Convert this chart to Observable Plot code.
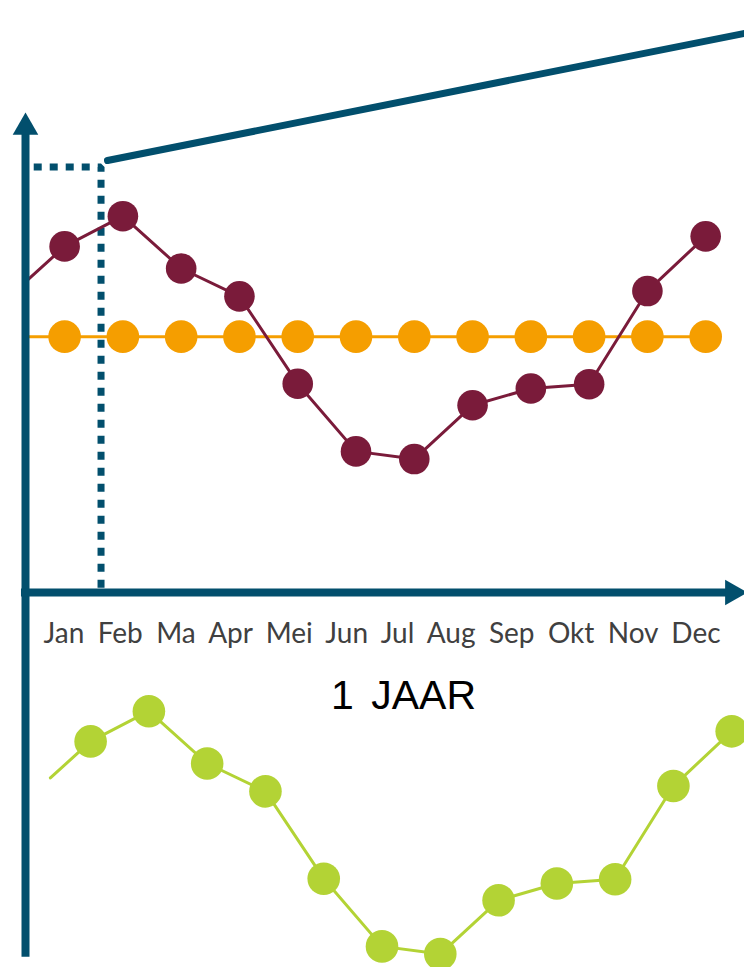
<!DOCTYPE html>
<html>
<head>
<meta charset="utf-8">
<script src="https://cdn.jsdelivr.net/npm/d3@7"></script>
<script src="https://cdn.jsdelivr.net/npm/@observablehq/plot@0.6"></script>
<style>
  html, body { margin: 0; padding: 0; background: #ffffff; }
  #chart svg { display: block; }
</style>
</head>
<body>
<div id="chart"></div>
<script>
// ---- data ----
const months = ["Jan", "Feb", "Ma", "Apr", "Mei", "Jun", "Jul", "Aug", "Sep", "Okt", "Nov", "Dec"];
// monthly values (index 0..11)
const seasonal = [72.1, 78.4, 67.5, 61.7, 43.5, 29.4, 27.8, 39.0, 42.5, 43.4, 62.8, 74.2];
const average = 53.3;
// lead-in of the curves, coming in from before January
const seasonalLeadIn = { month: -0.69, value: 64.5 };
const averageLeadIn = { month: -0.69, value: 53.3 };
// the highlighted first period (dotted box) and the growing trend line
const periodBox = [
  { month: -0.53, value: 88.65 },
  { month: 0.625, value: 88.65 },
  { month: 0.625, value: 0 }
];
const trend = [
  { month: 0.736, value: 90.0 },
  { month: 11.67, value: 116.5 }
];
// axes extents
const yAxisAt = -0.671, yAxisTop = 96.3, yAxisBottom = -76.0, yArrow = 96.9;
const xAxisLeft = -0.74, xAxisRight = 11.43, xArrow = 11.46;
const monthRowStart = -0.362, monthRowEnd = 11.255;
const axisLabel = "1 JAAR";

// ---- tables ----
const seasonalPts = months.map((m, i) => ({ month: i, value: seasonal[i], label: m }));
const seasonalLine = [seasonalLeadIn, ...seasonalPts];
const averagePts = months.map((m, i) => ({ month: i, value: average }));
const averageLine = [averageLeadIn, ...averagePts];
const monthRow = months.join(" ");

const teal = "#024f6d", maroon = "#7a1b3a", orange = "#f59e00", green = "#b3d335";

const chart = Plot.plot({
  width: 744,
  height: 967,
  margin: 0,
  x: { domain: [-1.1, 11.666], axis: null },
  y: { domain: [-78.125, 123.333], axis: null },
  style: { background: "#ffffff" },
  marks: [
    // dotted period box
    Plot.line(periodBox, { x: "month", y: "value", stroke: teal, strokeWidth: 7, strokeDasharray: "8,8", strokeLinejoin: "miter", strokeLinecap: "butt" }),
    // trend line
    Plot.line(trend, { x: "month", y: "value", stroke: teal, strokeWidth: 7 }),
    // average (orange)
    Plot.line(averageLine, { x: "month", y: "value", stroke: orange, strokeWidth: 3 }),
    Plot.dot(averagePts, { x: "month", y: "value", r: 16.3, fill: orange }),
    // seasonal (maroon)
    Plot.line(seasonalLine, { x: "month", y: "value", stroke: maroon, strokeWidth: 3 }),
    Plot.dot(seasonalPts, { x: "month", y: "value", r: 15.3, fill: maroon }),
    // seasonal repeated below (green)
    Plot.line(seasonalLine, { x: "month", y: "value", stroke: green, strokeWidth: 3, dx: 26, dy: 495 }),
    Plot.dot(seasonalPts, { x: "month", y: "value", r: 16.3, fill: green, dx: 26, dy: 495 }),
    // axes
    Plot.ruleX([yAxisAt], { y1: yAxisBottom, y2: yAxisTop, stroke: teal, strokeWidth: 8 }),
    Plot.ruleY([0], { x1: xAxisLeft, x2: xAxisRight, stroke: teal, strokeWidth: 8 }),
    Plot.dot([{ month: yAxisAt, value: yArrow }], { x: "month", y: "value", symbol: "triangle", r: 9.5, fill: teal, stroke: null }),
    Plot.dot([{ month: xArrow, value: 0 }], { x: "month", y: "value", symbol: "triangle", r: 9.5, fill: teal, stroke: null, rotate: 90 }),
    // month labels, as one row of text
    Plot.text([monthRow], { x: monthRowStart, y: -10.55, text: d => d, textAnchor: "start", lineAnchor: "bottom", fontSize: 28, fontFamily: "Lato", fill: "#404040" }),
    // axis caption
    Plot.text([axisLabel], { x: 5.815, y: -24.17, text: d => d, lineAnchor: "bottom", fontSize: 41, fontFamily: "Liberation Sans", fill: "#000000" })
  ]
});
document.getElementById("chart").appendChild(chart);

// spread the month row so it spans the same width as the month axis
const xs = chart.scale("x");
const rowText = Array.from(chart.querySelectorAll("text")).find(t => t.textContent === monthRow);
if (rowText) {
  const target = xs.apply(monthRowEnd) - xs.apply(monthRowStart);
  const base = rowText.getComputedTextLength();
  const gaps = months.length - 1;
  rowText.style.wordSpacing = ((target - base) / gaps) + "px";
}
const capText = Array.from(chart.querySelectorAll("text")).find(t => t.textContent === axisLabel);
if (capText) capText.style.wordSpacing = "6px";
</script>
</body>
</html>
